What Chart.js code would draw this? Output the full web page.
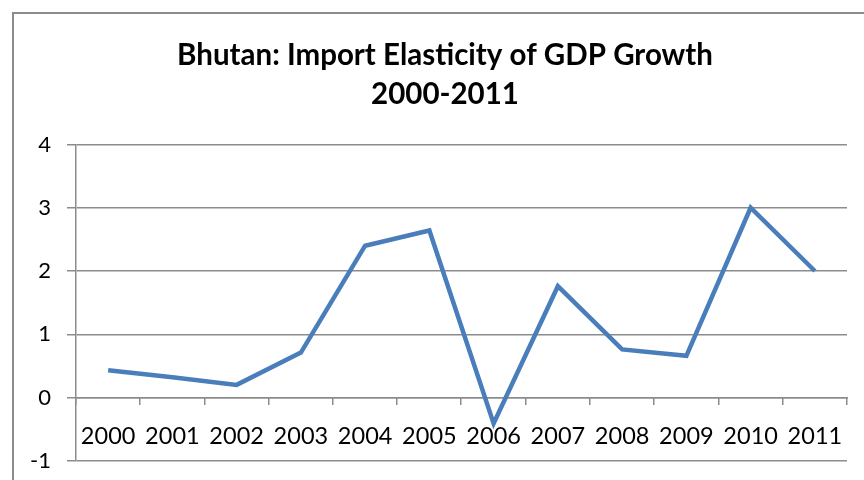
<!DOCTYPE html>
<html><head><meta charset="utf-8">
<script src="https://cdn.jsdelivr.net/npm/chart.js@4/dist/chart.umd.min.js"></script>
<style>
html,body{margin:0;padding:0;background:#fff;overflow:hidden;width:864px;height:480px;}
#wrap{position:absolute;left:12px;top:12px;width:880px;height:480px;border:2px solid #8c8c8c;background:#fff;}
#c{position:absolute;left:0;top:0;}
</style></head>
<body>
<div id="wrap"><canvas id="c" width="866" height="476"></canvas></div>
<script>
const categories = ['2000','2001','2002','2003','2004','2005','2006','2007','2008','2009','2010','2011'];
const elasticity = [0.43, 0.32, 0.2, 0.71, 2.4, 2.64, -0.41, 1.76, 0.76, 0.66, 3.0, 2.0];
const titleLines = ['Bhutan: Import Elasticity of GDP Growth', '2000-2011'];
const FONT = "Lato, 'Open Sans', 'Liberation Sans', sans-serif";

const xTicksPlugin = {
  id: 'xTickMarks',
  afterDatasetsDraw(chart) {
    const x = chart.scales.x, y = chart.scales.y;
    const ctx = chart.ctx;
    const y0 = Math.round(y.getPixelForValue(0));
    ctx.save();
    ctx.fillStyle = '#8c8c8c';
    const n = categories.length;
    const half = (x.getPixelForValue(1) - x.getPixelForValue(0)) / 2;
    for (let i = 0; i <= n; i++) {
      const px = Math.round(x.getPixelForValue(Math.min(i, n - 1)) + (i === n ? half : -half));
      ctx.fillRect(px - 1, y0, 1.5, 7);
    }
    ctx.restore();
  }
};

new Chart(document.getElementById('c'), {
  type: 'line',
  data: {
    labels: categories,
    datasets: [{
      data: elasticity,
      borderColor: '#4a7ebb',
      borderWidth: 4.5,
      pointRadius: 0,
      tension: 0,
      borderJoinStyle: 'miter'
    }]
  },
  plugins: [xTicksPlugin],
  options: {
    responsive: false,
    animation: false,
    layout: { padding: { left: 0, right: 4, top: 0, bottom: 0 } },
    plugins: {
      legend: { display: false },
      tooltip: { enabled: false },
      title: {
        display: true,
        text: titleLines,
        color: '#000',
        font: { family: FONT, size: 29.5, weight: 'bold', lineHeight: 1.33 },
        padding: { top: 22, bottom: 30 }
      }
    },
    scales: {
      x: {
        type: 'category',
        position: { y: 0 },
        offset: true,
        grid: { display: false },
        border: { display: true, color: '#8c8c8c', width: 1.5 },
        ticks: { color: '#000', font: { family: FONT, size: 23.5 }, padding: 17, maxRotation: 0, autoSkip: false }
      },
      y: {
        min: -1, max: 4,
        afterFit: s => { s.width = 62; },
        grid: { color: '#8c8c8c', lineWidth: 1.5, drawTicks: true, tickLength: 9 },
        border: { display: true, color: '#8c8c8c', width: 1.5 },
        ticks: { stepSize: 1, color: '#000', font: { family: FONT, size: 22 }, padding: 16 }
      },
      spacer: {
        type: 'linear',
        position: 'right',
        display: true,
        afterFit: s => { s.width = 29; },
        grid: { display: false },
        border: { display: false },
        ticks: { display: false }
      }
    }
  }
});
</script>
</body></html>
